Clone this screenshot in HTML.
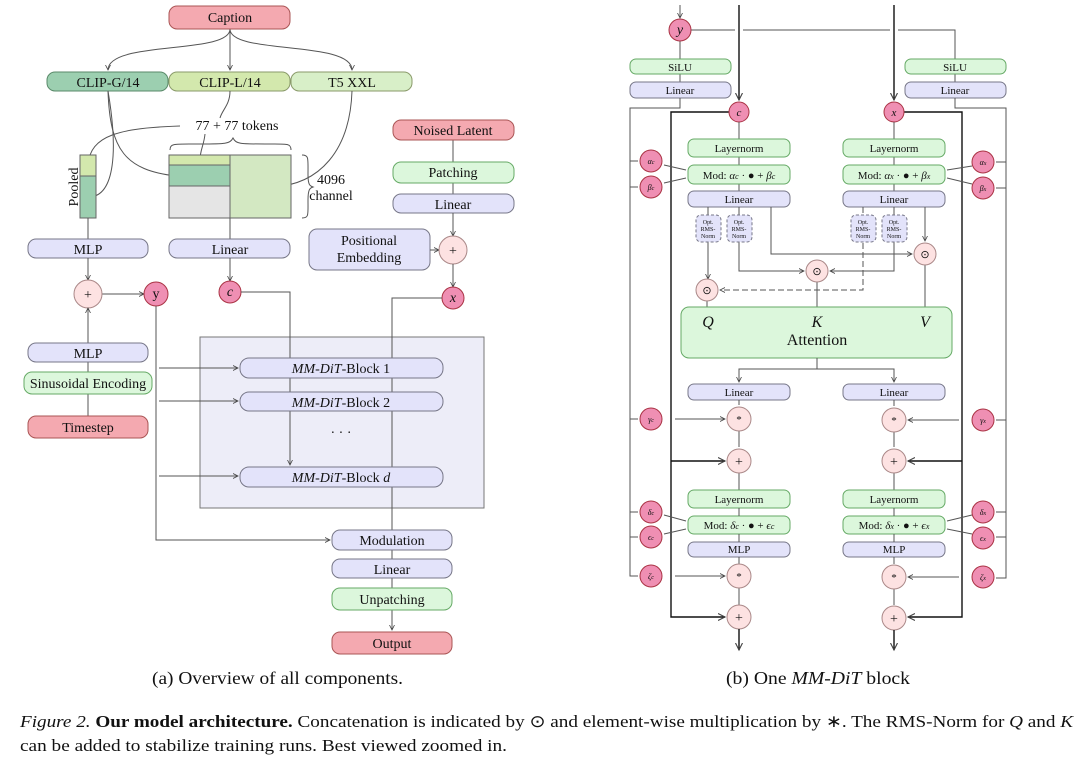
<!DOCTYPE html>
<html><head><meta charset="utf-8"><style>
html,body{margin:0;padding:0;background:#fff}
svg text{font-family:"Liberation Serif",serif;fill:#111}
</style></head><body>
<svg width="1080" height="759" viewBox="0 0 1080 759" xmlns="http://www.w3.org/2000/svg">
<defs>
<marker id="a" viewBox="0 0 6 6" refX="5" refY="3" markerWidth="6" markerHeight="6" orient="auto"><path d="M0,0.5 L5,3 L0,5.5" fill="none" stroke="#444" stroke-width="0.8"/></marker>
</defs>
<style>
.l{stroke:#555;stroke-width:1;fill:none}
.k{stroke:#111;stroke-width:1.4;fill:none}
.red{fill:#f4a9b0;stroke:#a55;stroke-width:1}
.lav{fill:#e3e3fa;stroke:#778;stroke-width:1}
.grn{fill:#dcf7dc;stroke:#6a6;stroke-width:1}
.pk{fill:#ef8fb3;stroke:#a34;stroke-width:1}
.op{fill:#fde2e2;stroke:#a88;stroke-width:1}
.t{font-size:14px;text-anchor:middle}
.s{font-size:11px;text-anchor:middle}
</style>

<!-- ===== LEFT PANEL ===== -->
<path class="l" d="M230,29 V70" marker-end="url(#a)"/>
<path class="l" d="M230,29 C230,55 108,40 108,70" marker-end="url(#a)"/>
<path class="l" d="M230,29 C230,55 352,40 352,70" marker-end="url(#a)"/>
<rect class="red" x="169" y="6" width="121" height="23" rx="8"/><text class="t" x="230" y="22">Caption</text>
<rect x="47" y="72" width="121" height="19" rx="8" fill="#9ccfb0" stroke="#5a8a6a"/><text class="t" x="108" y="87">CLIP-G/14</text>
<rect x="169" y="72" width="121" height="19" rx="8" fill="#d3e8ad" stroke="#8a9a6a"/><text class="t" x="230" y="87">CLIP-L/14</text>
<rect x="291" y="72" width="121" height="19" rx="8" fill="#d8efc8" stroke="#8a9a6a"/><text class="t" x="352" y="87">T5 XXL</text>

<path class="l" d="M230,91 C230,105 222,110 220,118"/>
<text class="t" x="237" y="130">77 + 77 tokens</text>
<path class="l" d="M180,126 C120,128 90,135 88,165" marker-end="url(#a)"/>
<path class="l" d="M205,134 C204,145 200,150 200,160" marker-end="url(#a)"/>
<path class="l" d="M108,91 C110,150 125,170 176,176" marker-end="url(#a)"/>
<path class="l" d="M108,91 C118,150 115,195 90,197" marker-end="url(#a)"/>
<path class="l" d="M352,91 C350,150 320,185 272,187" marker-end="url(#a)"/>
<path class="l" d="M170,150 C170,143 175,144 200,144 C225,144 230,144 233,138 C236,144 240,144 265,144 C287,144 291,143 291,150"/>
<path class="l" d="M302,155 C309,155 308,158 308,175 C308,185 310,186 313,187 C310,188 308,189 308,200 C308,215 309,218 302,218"/>
<text class="t" x="331" y="184">4096</text><text class="t" x="331" y="200">channel</text>

<rect x="80" y="155" width="16" height="21" fill="#d3e8ad" stroke="#666"/>
<rect x="80" y="176" width="16" height="42" fill="#9ccfb0" stroke="#666"/>
<text class="t" x="0" y="0" transform="translate(78,187) rotate(-90)">Pooled</text>
<rect x="169" y="155" width="61" height="10" fill="#d3e8ad" stroke="#666"/>
<rect x="169" y="165" width="61" height="21" fill="#9ccfb0" stroke="#666"/>
<rect x="169" y="186" width="61" height="32" fill="#e5e5e5" stroke="#666"/>
<rect x="230" y="155" width="61" height="63" fill="#d3e8c2" stroke="#666"/>

<path class="l" d="M88,218 V239"/><path class="l" d="M230,218 V239"/>
<rect class="lav" x="28" y="239" width="120" height="19" rx="8"/><text class="t" x="88" y="254">MLP</text>
<rect class="lav" x="169" y="239" width="121" height="19" rx="8"/><text class="t" x="230" y="254">Linear</text>
<path class="l" d="M88,258 V280" marker-end="url(#a)"/>
<path class="l" d="M230,258 V281" marker-end="url(#a)"/>
<path class="l" d="M102,294 H144" marker-end="url(#a)"/>
<circle class="op" cx="88" cy="294" r="14"/><text class="t" x="88" y="299">+</text>
<circle class="pk" cx="156" cy="294" r="12"/><text class="t" x="156" y="298">y</text>
<circle class="pk" cx="230" cy="292" r="11"/><text class="t" x="230" y="296" font-style="italic">c</text>

<path class="l" d="M88,343 V308" marker-end="url(#a)"/>
<path class="l" d="M88,362 V416"/>
<rect class="lav" x="28" y="343" width="120" height="19" rx="8"/><text class="t" x="88" y="358">MLP</text>
<rect class="grn" x="24" y="372" width="128" height="22" rx="8"/><text class="t" x="88" y="388">Sinusoidal Encoding</text>
<rect class="red" x="28" y="416" width="120" height="22" rx="8"/><text class="t" x="88" y="432">Timestep</text>

<path class="l" d="M453,140 V162"/><path class="l" d="M453,183 V194"/>
<rect class="red" x="393" y="120" width="121" height="20" rx="8"/><text class="t" x="453" y="135">Noised Latent</text>
<rect class="grn" x="393" y="162" width="121" height="21" rx="8"/><text class="t" x="453" y="177">Patching</text>
<rect class="lav" x="393" y="194" width="121" height="19" rx="8"/><text class="t" x="453" y="209">Linear</text>
<path class="l" d="M453,213 V236" marker-end="url(#a)"/>
<rect class="lav" x="309" y="229" width="121" height="41" rx="8"/>
<text class="t" x="369" y="245">Positional</text><text class="t" x="369" y="262">Embedding</text>
<path class="l" d="M430,250 H439" marker-end="url(#a)"/>
<circle class="op" cx="453" cy="250" r="14"/><text class="t" x="453" y="255">+</text>
<path class="l" d="M453,264 V287" marker-end="url(#a)"/>
<circle class="pk" cx="453" cy="298" r="11"/><text class="t" x="453" y="302" font-style="italic">x</text>

<rect x="200" y="337" width="284" height="171" fill="#ededf8" stroke="#777"/>
<path class="l" d="M156,306 V540 H330" marker-end="url(#a)"/>
<path class="l" d="M159,368 H238" marker-end="url(#a)"/>
<path class="l" d="M159,401 H238" marker-end="url(#a)"/>
<path class="l" d="M159,476 H238" marker-end="url(#a)"/>
<path class="l" d="M241,292 H290 V465" marker-end="url(#a)"/>
<path class="l" d="M442,298 H392 V530"/>
<rect class="lav" x="240" y="358" width="203" height="20" rx="9"/><text class="t" x="341" y="373"><tspan font-style="italic">MM-DiT</tspan>-Block 1</text>
<rect class="lav" x="240" y="392" width="203" height="19" rx="9"/><text class="t" x="341" y="407"><tspan font-style="italic">MM-DiT</tspan>-Block 2</text>
<text class="t" x="341" y="437">· · ·</text>
<rect class="lav" x="240" y="467" width="203" height="20" rx="9"/><text class="t" x="341" y="482"><tspan font-style="italic">MM-DiT</tspan>-Block <tspan font-style="italic">d</tspan></text>

<path class="l" d="M392,550 V559"/><path class="l" d="M392,578 V588"/><path class="l" d="M392,610 V630" marker-end="url(#a)"/>
<rect class="lav" x="332" y="530" width="120" height="20" rx="8"/><text class="t" x="392" y="545">Modulation</text>
<rect class="lav" x="332" y="559" width="120" height="19" rx="8"/><text class="t" x="392" y="574">Linear</text>
<rect class="grn" x="332" y="588" width="120" height="22" rx="8"/><text class="t" x="392" y="604">Unpatching</text>
<rect class="red" x="332" y="632" width="120" height="22" rx="8"/><text class="t" x="392" y="648">Output</text>

<text x="152" y="684" font-size="18" textLength="251" lengthAdjust="spacingAndGlyphs">(a) Overview of all components.</text>

<!-- ===== RIGHT PANEL ===== -->
<path class="l" d="M680,5 V18" marker-end="url(#a)"/>
<path class="l" d="M691,30 H735 M743,30 H890 M898,30 H955 V59"/>
<path class="l" d="M680,41 V59"/><path class="l" d="M680,74 V82"/><path class="l" d="M955,74 V82"/>
<circle class="pk" cx="680" cy="30" r="11"/><text class="t" x="680" y="34" font-size="12" font-style="italic">y</text>
<rect class="grn" x="630" y="59" width="101" height="15" rx="6"/><text class="s" x="680" y="71">SiLU</text>
<rect class="lav" x="630" y="82" width="101" height="16" rx="6"/><text class="s" x="680" y="94">Linear</text>
<rect class="grn" x="905" y="59" width="101" height="15" rx="6"/><text class="s" x="955" y="71">SiLU</text>
<rect class="lav" x="905" y="82" width="101" height="16" rx="6"/><text class="s" x="955" y="94">Linear</text>

<path class="k" d="M739,5 V100" marker-end="url(#a)"/>
<path class="k" d="M894,5 V100" marker-end="url(#a)"/>
<path class="l" d="M680,98 V108 H630 V576 H638"/>
<path class="l" d="M630,161 H638 M630,187 H638 M630,419 H638 M630,512 H638 M630,537 H638" />
<path class="l" d="M955,98 V108 H1006 V578 H996"/>
<path class="l" d="M1006,162 H996 M1006,188 H996 M1006,420 H996 M1006,512 H996 M1006,537 H996"/>
<path class="k" d="M729,112 H671 V617 H725" marker-end="url(#a)"/>
<path class="k" d="M671,461 H725" marker-end="url(#a)"/>
<path class="k" d="M904,112 H962 V617 H908" marker-end="url(#a)"/>
<path class="k" d="M962,461 H908" marker-end="url(#a)"/>

<circle class="pk" cx="739" cy="112" r="10"/><text class="s" x="739" y="116" font-style="italic">c</text>
<circle class="pk" cx="894" cy="112" r="10"/><text class="s" x="894" y="116" font-style="italic">x</text>

<path class="l" d="M739,122 V139 M739,157 V165 M739,184 V191"/>
<path class="l" d="M894,122 V139 M894,157 V165 M894,184 V191"/>
<rect class="grn" x="688" y="139" width="102" height="18" rx="6"/><text class="s" x="739" y="152">Layernorm</text>
<rect class="grn" x="688" y="165" width="102" height="19" rx="6"/><text class="s" x="739" y="179">Mod: <tspan font-style="italic">α<tspan font-size="8">c</tspan></tspan> · ● + <tspan font-style="italic">β<tspan font-size="8">c</tspan></tspan></text>
<rect class="lav" x="688" y="191" width="102" height="16" rx="6"/><text class="s" x="739" y="203">Linear</text>
<rect class="grn" x="843" y="139" width="102" height="18" rx="6"/><text class="s" x="894" y="152">Layernorm</text>
<rect class="grn" x="843" y="165" width="102" height="19" rx="6"/><text class="s" x="894" y="179">Mod: <tspan font-style="italic">α<tspan font-size="8">x</tspan></tspan> · ● + <tspan font-style="italic">β<tspan font-size="8">x</tspan></tspan></text>
<rect class="lav" x="843" y="191" width="102" height="16" rx="6"/><text class="s" x="894" y="203">Linear</text>

<path class="l" d="M664,165 L686,170 M664,183 L686,178"/>
<path class="l" d="M972,166 L947,170 M972,184 L947,178"/>
<circle class="pk" cx="651" cy="161" r="11"/><text x="651" y="164" font-size="8" text-anchor="middle" font-style="italic">α<tspan font-size="6">c</tspan></text>
<circle class="pk" cx="651" cy="187" r="11"/><text x="651" y="190" font-size="8" text-anchor="middle" font-style="italic">β<tspan font-size="6">c</tspan></text>
<circle class="pk" cx="983" cy="162" r="11"/><text x="983" y="165" font-size="8" text-anchor="middle" font-style="italic">α<tspan font-size="6">x</tspan></text>
<circle class="pk" cx="983" cy="188" r="11"/><text x="983" y="191" font-size="8" text-anchor="middle" font-style="italic">β<tspan font-size="6">x</tspan></text>

<path class="l" d="M708,207 V279" marker-end="url(#a)"/>
<path class="l" d="M739,207 V271 H804" marker-end="url(#a)"/>
<path class="l" d="M771,207 V254 H912" marker-end="url(#a)"/>
<path class="l" d="M894,207 V271 H830" marker-end="url(#a)"/>
<path class="l" d="M863,207 V290 H720" marker-end="url(#a)" stroke-dasharray="6,3"/>
<path class="l" d="M925,207 V241" marker-end="url(#a)"/>
<path class="l" d="M707,301 V307 M817,282 V307 M925,265 V307"/>
<g fill="#e3e3fa" stroke="#778" stroke-dasharray="3,2">
<rect x="696" y="215" width="25" height="27" rx="5"/><rect x="727" y="215" width="25" height="27" rx="5"/>
<rect x="851" y="215" width="25" height="27" rx="5"/><rect x="882" y="215" width="25" height="27" rx="5"/>
</g>
<g font-size="6" text-anchor="middle">
<text x="708" y="224">Opt.</text><text x="708" y="231">RMS-</text><text x="708" y="238">Norm</text>
<text x="739" y="224">Opt.</text><text x="739" y="231">RMS-</text><text x="739" y="238">Norm</text>
<text x="863" y="224">Opt.</text><text x="863" y="231">RMS-</text><text x="863" y="238">Norm</text>
<text x="894" y="224">Opt.</text><text x="894" y="231">RMS-</text><text x="894" y="238">Norm</text>
</g>
<circle class="op" cx="707" cy="290" r="11"/><text class="s" x="707" y="294">⊙</text>
<circle class="op" cx="817" cy="271" r="11"/><text class="s" x="817" y="275">⊙</text>
<circle class="op" cx="925" cy="254" r="11"/><text class="s" x="925" y="258">⊙</text>

<rect class="grn" x="681" y="307" width="271" height="51" rx="8"/>
<text x="708" y="327" font-size="16" text-anchor="middle" font-style="italic">Q</text>
<text x="817" y="327" font-size="16" text-anchor="middle" font-style="italic">K</text>
<text x="925" y="327" font-size="16" text-anchor="middle" font-style="italic">V</text>
<text x="817" y="345" font-size="16" text-anchor="middle">Attention</text>
<path class="l" d="M817,358 V369 H739 V382" marker-end="url(#a)"/>
<path class="l" d="M817,369 H894 V382" marker-end="url(#a)"/>

<rect class="lav" x="688" y="384" width="102" height="16" rx="6"/><text class="s" x="739" y="396">Linear</text>
<rect class="lav" x="843" y="384" width="102" height="16" rx="6"/><text class="s" x="894" y="396">Linear</text>
<path class="l" d="M739,400 V405 M739,431 V447 M739,473 V490"/>
<path class="l" d="M894,400 V406 M894,432 V447 M894,473 V490"/>
<path class="l" d="M675,419 H725" marker-end="url(#a)"/>
<path class="l" d="M959,420 H908" marker-end="url(#a)"/>
<circle class="op" cx="739" cy="419" r="12"/><text class="s" x="739" y="423">*</text>
<circle class="op" cx="894" cy="420" r="12"/><text class="s" x="894" y="424">*</text>
<circle class="op" cx="739" cy="461" r="12"/><text class="t" x="739" y="466">+</text>
<circle class="op" cx="894" cy="461" r="12"/><text class="t" x="894" y="466">+</text>
<circle class="pk" cx="651" cy="419" r="11"/><text x="651" y="422" font-size="8" text-anchor="middle" font-style="italic">γ<tspan font-size="6">c</tspan></text>
<circle class="pk" cx="983" cy="420" r="11"/><text x="983" y="423" font-size="8" text-anchor="middle" font-style="italic">γ<tspan font-size="6">x</tspan></text>

<rect class="grn" x="688" y="490" width="102" height="18" rx="6"/><text class="s" x="739" y="503">Layernorm</text>
<rect class="grn" x="688" y="516" width="102" height="18" rx="6"/><text class="s" x="739" y="529">Mod: <tspan font-style="italic">δ<tspan font-size="8">c</tspan></tspan> · ● + <tspan font-style="italic">ϵ<tspan font-size="8">c</tspan></tspan></text>
<rect class="lav" x="688" y="542" width="102" height="15" rx="6"/><text class="s" x="739" y="553">MLP</text>
<rect class="grn" x="843" y="490" width="102" height="18" rx="6"/><text class="s" x="894" y="503">Layernorm</text>
<rect class="grn" x="843" y="516" width="102" height="18" rx="6"/><text class="s" x="894" y="529">Mod: <tspan font-style="italic">δ<tspan font-size="8">x</tspan></tspan> · ● + <tspan font-style="italic">ϵ<tspan font-size="8">x</tspan></tspan></text>
<rect class="lav" x="843" y="542" width="102" height="15" rx="6"/><text class="s" x="894" y="553">MLP</text>
<path class="l" d="M739,508 V516 M739,534 V542 M739,557 V564 M739,588 V605"/>
<path class="l" d="M894,508 V516 M894,534 V542 M894,557 V564 M894,588 V605"/>
<path class="l" d="M664,515 L686,521 M664,534 L686,529"/>
<path class="l" d="M972,515 L947,521 M972,534 L947,529"/>
<path class="l" d="M675,576 H725" marker-end="url(#a)"/>
<path class="l" d="M959,577 H908" marker-end="url(#a)"/>
<circle class="pk" cx="651" cy="512" r="11"/><text x="651" y="515" font-size="8" text-anchor="middle" font-style="italic">δ<tspan font-size="6">c</tspan></text>
<circle class="pk" cx="651" cy="537" r="11"/><text x="651" y="540" font-size="8" text-anchor="middle" font-style="italic">ϵ<tspan font-size="6">c</tspan></text>
<circle class="pk" cx="651" cy="576" r="11"/><text x="651" y="579" font-size="8" text-anchor="middle" font-style="italic">ζ<tspan font-size="6">c</tspan></text>
<circle class="pk" cx="983" cy="512" r="11"/><text x="983" y="515" font-size="8" text-anchor="middle" font-style="italic">δ<tspan font-size="6">x</tspan></text>
<circle class="pk" cx="983" cy="538" r="11"/><text x="983" y="541" font-size="8" text-anchor="middle" font-style="italic">ϵ<tspan font-size="6">x</tspan></text>
<circle class="pk" cx="983" cy="577" r="11"/><text x="983" y="580" font-size="8" text-anchor="middle" font-style="italic">ζ<tspan font-size="6">x</tspan></text>
<circle class="op" cx="739" cy="576" r="12"/><text class="s" x="739" y="580">*</text>
<circle class="op" cx="894" cy="577" r="12"/><text class="s" x="894" y="581">*</text>
<circle class="op" cx="739" cy="617" r="12"/><text class="t" x="739" y="622">+</text>
<circle class="op" cx="894" cy="618" r="12"/><text class="t" x="894" y="623">+</text>
<path class="k" d="M739,629 V650" marker-end="url(#a)"/>
<path class="k" d="M894,630 V650" marker-end="url(#a)"/>

<text x="726" y="684" font-size="18" textLength="184" lengthAdjust="spacingAndGlyphs">(b) One <tspan font-style="italic">MM-DiT</tspan> block</text>

<text x="20" y="727" font-size="17" textLength="1053" lengthAdjust="spacingAndGlyphs"><tspan font-style="italic">Figure 2.</tspan> <tspan font-weight="bold">Our model architecture.</tspan> Concatenation is indicated by ⊙ and element-wise multiplication by ∗. The RMS-Norm for <tspan font-style="italic">Q</tspan> and <tspan font-style="italic">K</tspan></text>
<text x="20" y="751" font-size="17" textLength="487" lengthAdjust="spacingAndGlyphs">can be added to stabilize training runs. Best viewed zoomed in.</text>
</svg>
</body></html>
